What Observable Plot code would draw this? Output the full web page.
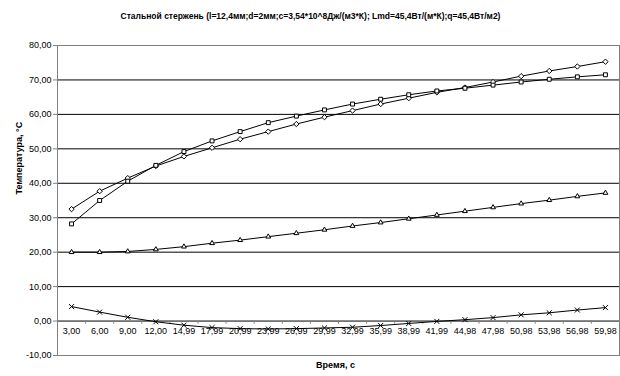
<!DOCTYPE html>
<html>
<head>
<meta charset="utf-8">
<script src="https://cdn.jsdelivr.net/npm/d3@7"></script>
<script src="https://cdn.jsdelivr.net/npm/@observablehq/plot@0.6"></script>
<style>
  html, body { margin: 0; padding: 0; background: white; }
</style>
</head>
<body>
<div id="chart"></div>
<script>
const titleText = "Стальной стержень (l=12,4мм;d=2мм;c=3,54*10^8Дж/(м3*К); Lmd=45,4Вт/(м*К);q=45,4Вт/м2)";
const yTitle = "Температура, °С";
const xTitle = "Время, с";
const categories = ["3,00","6,00","9,00","12,00","14,99","17,99","20,99","23,99","26,99","29,99","32,99","35,99","38,99","41,99","44,98","47,98","50,98","53,98","56,98","59,98"];
const yTicks = [-10, 0, 10, 20, 30, 40, 50, 60, 70, 80];
const gridValues = [0, 10, 20, 30, 40, 50, 60, 70];
const seriesDiamond = [32.5,37.7,41.5,45.0,47.8,50.3,52.8,55.0,57.2,59.2,61.1,63.0,64.7,66.4,67.8,69.4,71.1,72.6,73.9,75.3];
const seriesSquare  = [28.2,35.0,40.6,45.2,49.2,52.3,55.0,57.6,59.5,61.3,63.0,64.4,65.7,66.8,67.6,68.5,69.4,70.2,70.9,71.5];
const seriesTriangle= [20.0,20.0,20.2,20.8,21.6,22.6,23.5,24.5,25.5,26.5,27.6,28.6,29.7,30.8,31.9,33.0,34.1,35.1,36.2,37.2];
const seriesCross   = [4.2,2.6,1.1,-0.2,-1.2,-1.9,-2.2,-2.3,-2.2,-2.0,-1.8,-1.3,-0.7,-0.1,0.4,1.0,1.8,2.4,3.2,3.9];

const series = [
  {values: seriesDiamond, symbol: "diamond2", r: 2.4},
  {values: seriesSquare, symbol: "square2", r: 2.5},
  {values: seriesTriangle, symbol: "triangle2", r: 2.3},
  {values: seriesCross, symbol: "times", r: 2.4}
];

const boundaries = categories.map((c, i) => i - 0.5).concat([categories.length - 0.5]);
const fmt = v => v.toFixed(2).replace(".", ",");

const marks = [
  Plot.ruleY(gridValues, {stroke: "black", strokeWidth: 1}),
  Plot.frame({stroke: "#808080", strokeWidth: 1}),
  Plot.axisY({ticks: yTicks, tickSize: 4, tickPadding: 2, tickFormat: fmt, stroke: "#808080", fill: "black", label: null}),
  Plot.ruleX(boundaries, {x: d => d, y1: 0, y2: -0.9, stroke: "#808080"}),
  Plot.text(categories, {x: (d, i) => i, y: 0, dy: 10, text: d => d, fill: "black"}),
];
for (const s of series) {
  marks.push(Plot.line(s.values, {x: (d, i) => i, y: d => d, stroke: "black", strokeWidth: 1}));
  marks.push(Plot.dot(s.values, {x: (d, i) => i, y: d => d, symbol: () => s.symbol, r: s.r, stroke: "black", fill: s.symbol === "times" ? "none" : "white", strokeWidth: 1}));
}
marks.push(Plot.text([titleText], {frameAnchor: "top", dx: -28, dy: -33, text: d => d, fontWeight: "bold", fontSize: 8.5, fill: "black"}));
marks.push(Plot.text([yTitle], {frameAnchor: "left", dx: -38, dy: -6, text: d => d, rotate: -90, fontWeight: "bold", fill: "black"}));
marks.push(Plot.text([xTitle], {frameAnchor: "bottom", dy: 12, dx: -3, text: d => d, fontWeight: "bold", fill: "black"}));

const chart = Plot.plot({
  width: 620,
  height: 376,
  marginLeft: 57,
  marginRight: 1,
  marginTop: 45,
  marginBottom: 21,
  x: {domain: [-0.5, categories.length - 0.5], axis: null},
  y: {domain: [-10, 80], axis: null},
  symbol: {type: "identity"},
  style: {fontFamily: "'Liberation Sans', Arial, sans-serif", fontSize: "9px", background: "white", color: "black"},
  marks
});
document.getElementById("chart").appendChild(chart);
</script>
</body>
</html>
